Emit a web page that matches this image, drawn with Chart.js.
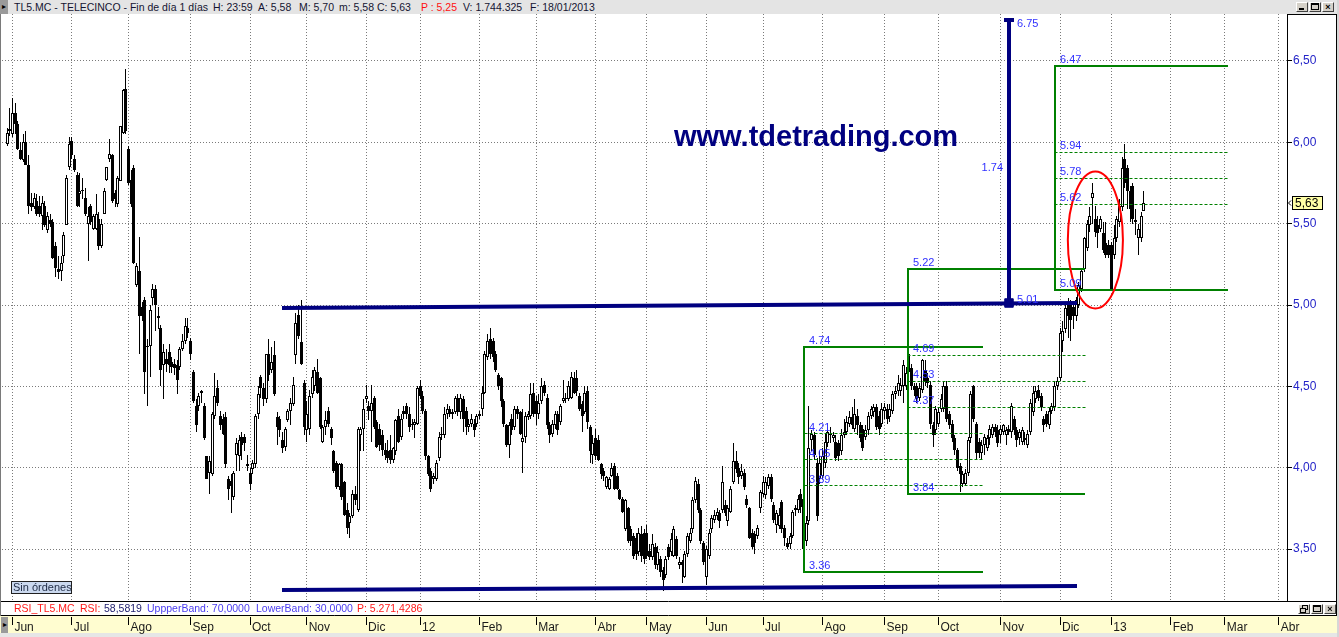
<!DOCTYPE html>
<html lang="es">
<head>
<meta charset="utf-8">
<title>TL5.MC - TELECINCO</title>
<script src="https://cdn.jsdelivr.net/npm/chart.js@4.4.1/dist/chart.umd.min.js"></script>
<style>
html,body{margin:0;padding:0;background:#fff;overflow:hidden;}
#wrap{position:relative;width:1339px;height:637px;overflow:hidden;font-family:"Liberation Sans",Arial,sans-serif;}
#c{position:absolute;left:0;top:0;}
.abs{position:absolute;white-space:nowrap;top:0;}
#titlebar{position:absolute;left:0;top:0;width:1337px;height:14px;background:#e4e4e4;font-size:10.5px;line-height:14px;color:#141432;}
.lbtn{position:absolute;left:0;width:8px;background:#9a9a9a;color:#000;font-size:8px;text-align:center;}
.wb{position:absolute;width:10px;height:8px;background:#d4d0c8;border:1px solid;border-color:#fff #404040 #404040 #fff;overflow:hidden;}
.wb i{position:absolute;display:block;}
#rsi{position:absolute;left:0;top:602px;width:1290px;height:13px;font-size:10.5px;line-height:13px;}
#rsi .abs{top:0;}
#sin{position:absolute;left:11px;top:581px;width:61px;height:13px;box-sizing:border-box;border:1px solid #202020;background:#cbd9ef;color:#1e2a44;font-size:11px;line-height:11px;padding-left:1px;white-space:nowrap;}
#www{position:absolute;left:674px;top:122px;font-weight:bold;font-size:29px;line-height:29px;color:#000080;white-space:nowrap;}
</style>
</head>
<body>
<div id="wrap">
  <canvas id="c" width="1339" height="637" style="width:1339px;height:637px"></canvas>

  <div id="titlebar">
    <div class="lbtn" style="top:0;height:14px;line-height:14px;">&#9656;</div>
    <span class="abs" style="left:14px">TL5.MC - TELECINCO - Fin de día 1 días</span>
    <span class="abs" style="left:213px">H: 23:59</span>
    <span class="abs" style="left:258px">A: 5,58</span>
    <span class="abs" style="left:299px">M: 5,70</span>
    <span class="abs" style="left:339px">m: 5,58</span>
    <span class="abs" style="left:377px">C: 5,63</span>
    <span class="abs" style="left:421px;color:#ff1010">P : 5,25</span>
    <span class="abs" style="left:463px">V: 1.744.325</span>
    <span class="abs" style="left:530px">F: 18/01/2013</span>
  </div>
  <div class="wb" style="left:1296px;top:2px"><i style="left:2px;top:5px;width:5px;height:2px;background:#000"></i></div>
  <div class="wb" style="left:1309px;top:2px"><i style="left:1px;top:0px;width:6px;height:4px;border:1px solid #000;border-top-width:2px"></i></div>
  <div class="wb" style="left:1322px;top:2px;font:bold 9px/8px 'Liberation Sans';text-align:center;color:#000">&#215;</div>

  <div id="www">www.tdetrading.com</div>

  <div id="sin">Sin órdenes</div>

  <div id="rsi">
    <span class="abs" style="left:14px;color:#ff1a1a">RSI_TL5.MC</span>
    <span class="abs" style="left:80px;color:#ff1a1a">RSI:</span>
    <span class="abs" style="left:104px;color:#222270">58,5819</span>
    <span class="abs" style="left:147px;color:#4a3cf0">UppperBand: 70,0000</span>
    <span class="abs" style="left:256px;color:#4a3cf0">LowerBand: 30,0000</span>
    <span class="abs" style="left:357px;color:#ff1a1a">P: 5.271,4286</span>
  </div>
  <div class="wb" style="left:1298px;top:604px"><i style="left:3px;top:0px;width:4px;height:3px;border:1px solid #000"></i><i style="left:1px;top:3px;width:4px;height:3px;border:1px solid #000;background:#d4d0c8"></i></div>
  <div class="wb" style="left:1311px;top:604px"><i style="left:1px;top:0px;width:6px;height:4px;border:1px solid #000;border-top-width:2px"></i></div>
  <div class="wb" style="left:1324px;top:604px;font:bold 9px/8px 'Liberation Sans';text-align:center;color:#000">&#215;</div>

  <div class="lbtn" style="left:1px;top:617px;height:16px;line-height:16px;width:7px;">&#9656;</div>
</div>

<script>
// ------------------------------------------------------------------
// DATA (daily candles TL5.MC, 30/05/2011 .. 18/01/2013)
// ------------------------------------------------------------------
const monthLabels = ['Jun','Jul','Ago','Sep','Oct','Nov','Dic','12','Feb','Mar','Abr','May',
                     'Jun','Jul','Ago','Sep','Oct','Nov','Dic','13','Feb','Mar','Abr'];
// index of the first trading session of each month
const monthStart = [2,24,45,68,90,111,133,153,175,196,218,237,259,280,302,325,345,368,390,409,431,451,471];
const yTicks = [3.5,4.0,4.5,5.0,5.5,6.0,6.5];

const open = [
5.99,6.08,6.05,6.18,6.11,5.95,5.89,6.00,5.86,5.63,
5.60,5.64,5.61,5.55,5.61,5.46,5.52,5.51,5.36,5.22,
5.21,5.30,5.49,5.85,6.01,5.90,5.80,5.68,5.71,5.66,
5.50,5.61,5.47,5.47,5.53,5.36,5.56,5.77,5.90,5.92,
5.69,5.62,5.76,6.06,6.33,5.96,5.77,5.84,5.12,5.21,
4.99,5.03,4.74,4.75,5.04,5.10,4.92,4.86,4.63,4.67,
4.71,4.65,4.64,4.63,4.62,4.73,4.78,4.86,4.78,4.59,
4.38,4.38,4.46,4.38,4.07,3.97,3.96,4.32,4.49,4.32,
4.30,4.31,3.93,3.92,3.82,4.08,4.07,4.19,4.19,4.02,
3.97,3.99,4.02,4.33,4.56,4.49,4.42,4.70,4.60,4.69,
4.31,4.30,4.17,4.13,4.29,4.35,4.39,4.69,4.94,4.77,
4.52,4.23,4.24,4.45,4.50,4.59,4.55,4.16,4.25,4.35,
4.24,4.10,4.03,3.88,4.02,3.91,3.74,3.66,3.70,3.84,
3.74,4.20,4.24,4.42,4.38,4.35,4.43,4.28,4.24,4.20,
4.11,4.10,4.11,4.05,4.10,4.32,4.19,4.35,4.38,4.33,
4.26,4.26,4.27,4.50,4.44,4.35,4.07,3.98,3.93,3.93,
4.06,4.20,4.20,4.33,4.36,4.33,4.34,4.43,4.34,4.42,
4.35,4.25,4.27,4.27,4.27,4.32,4.36,4.46,4.68,4.79,
4.78,4.70,4.57,4.55,4.41,4.26,4.14,4.30,4.25,4.36,
4.34,4.16,4.19,4.31,4.32,4.46,4.41,4.33,4.41,4.51,
4.43,4.26,4.21,4.26,4.33,4.28,4.41,4.42,4.42,4.43,
4.55,4.55,4.44,4.39,4.34,4.47,4.25,4.08,4.18,4.17,
4.02,3.98,3.88,3.87,3.95,4.01,3.95,3.86,3.81,3.62,
3.75,3.62,3.58,3.57,3.48,3.59,3.60,3.60,3.49,3.45,
3.51,3.40,3.44,3.37,3.34,3.51,3.48,3.46,3.56,3.40,
3.42,3.33,3.47,3.55,3.62,3.80,3.90,3.74,3.54,3.33,
3.46,3.62,3.68,3.70,3.72,3.74,3.77,3.67,3.73,3.91,
4.04,4.00,3.95,3.97,3.81,3.75,3.60,3.59,3.58,3.75,
3.84,3.83,3.89,3.94,3.77,3.65,3.64,3.79,3.63,3.54,
3.53,3.58,3.74,3.74,3.84,3.81,3.55,3.67,4.17,4.20,
4.03,3.93,3.95,4.03,4.15,4.20,4.18,4.16,4.15,4.10,
4.20,4.22,4.27,4.31,4.24,4.32,4.26,4.24,4.19,4.23,
4.32,4.34,4.37,4.32,4.27,4.35,4.36,4.31,4.35,4.45,
4.47,4.47,4.50,4.50,4.70,4.61,4.50,4.50,4.43,4.48,
4.60,4.55,4.51,4.26,4.23,4.27,4.36,4.36,4.50,4.33,
4.27,4.18,4.11,4.01,3.90,3.90,3.97,4.18,4.50,4.27,
4.16,4.09,4.14,4.12,4.18,4.20,4.25,4.23,4.20,4.22,
4.20,4.24,4.22,4.30,4.23,4.18,4.16,4.18,4.14,4.22,
4.34,4.42,4.48,4.44,4.30,4.33,4.26,4.35,4.37,4.50,
4.55,4.78,4.85,5.01,5.00,4.99,4.93,5.00,5.10,5.22,
5.35,5.49,5.66,5.53,5.49,5.47,5.44,5.38,5.37,5.37,
5.31,5.41,5.51,5.60,5.90,5.84,5.70,5.73,5.52,5.41,
5.41,5.58];

const high = [
6.09,6.21,6.27,6.24,6.13,6.00,6.05,6.07,5.92,5.69,
5.69,5.68,5.67,5.67,5.64,5.57,5.56,5.53,5.39,5.30,
5.30,5.45,5.80,6.03,6.03,5.92,5.82,5.81,5.78,5.72,
5.60,5.62,5.56,5.68,5.57,5.53,5.72,5.85,6.02,5.93,
5.71,5.79,6.10,6.33,6.45,5.98,5.83,5.86,5.26,5.42,
5.02,5.05,4.79,5.00,5.13,5.12,4.99,4.88,4.76,4.73,
4.76,4.68,4.67,4.66,4.74,4.82,4.92,4.92,4.80,4.60,
4.42,4.46,4.48,4.40,4.07,4.07,4.34,4.58,4.54,4.35,
4.33,4.34,3.95,3.96,3.98,4.18,4.20,4.22,4.21,4.08,
4.00,4.05,4.33,4.50,4.57,4.52,4.70,4.79,4.74,4.78,
4.34,4.32,4.22,4.25,4.36,4.43,4.56,4.95,5.00,5.03,
4.54,4.41,4.48,4.60,4.62,4.67,4.56,4.26,4.35,4.37,
4.25,4.11,4.04,4.03,4.03,3.92,3.78,3.72,3.86,3.89,
4.25,4.25,4.42,4.51,4.41,4.51,4.44,4.29,4.27,4.23,
4.15,4.17,4.20,4.13,4.30,4.36,4.33,4.38,4.40,4.37,
4.30,4.30,4.50,4.54,4.47,4.36,4.08,4.00,3.97,4.05,
4.22,4.25,4.37,4.39,4.38,4.36,4.44,4.45,4.45,4.44,
4.37,4.30,4.33,4.30,4.33,4.35,4.50,4.72,4.82,4.86,
4.80,4.72,4.58,4.56,4.42,4.27,4.28,4.33,4.38,4.38,
4.35,4.36,4.34,4.35,4.52,4.52,4.44,4.45,4.55,4.53,
4.45,4.28,4.29,4.35,4.35,4.39,4.54,4.46,4.53,4.59,
4.59,4.60,4.46,4.41,4.50,4.50,4.26,4.20,4.24,4.20,
4.03,4.00,3.95,3.94,4.03,4.03,3.97,3.87,3.82,3.81,
3.76,3.64,3.60,3.60,3.63,3.64,3.62,3.65,3.53,3.59,
3.54,3.52,3.46,3.39,3.46,3.53,3.60,3.64,3.58,3.45,
3.43,3.49,3.60,3.63,3.82,3.94,3.93,3.75,3.55,3.52,
3.62,3.71,3.74,3.75,3.74,4.01,3.80,3.77,3.89,4.15,
4.10,4.03,4.02,3.99,3.83,3.76,3.62,3.61,3.65,3.86,
3.95,3.94,3.96,3.96,3.79,3.74,3.75,3.80,3.65,3.57,
3.60,3.74,3.77,3.83,3.87,3.83,3.70,4.38,4.23,4.22,
4.06,4.10,4.12,4.21,4.25,4.25,4.22,4.20,4.17,4.24,
4.30,4.32,4.35,4.37,4.42,4.36,4.28,4.26,4.26,4.34,
4.38,4.39,4.39,4.35,4.40,4.40,4.39,4.39,4.47,4.50,
4.57,4.55,4.66,4.62,4.71,4.64,4.52,4.52,4.52,4.67,
4.66,4.58,4.53,4.28,4.38,4.37,4.45,4.53,4.53,4.35,
4.29,4.20,4.12,4.03,3.98,3.99,4.19,4.47,4.51,4.28,
4.18,4.17,4.21,4.20,4.26,4.27,4.27,4.26,4.26,4.27,
4.25,4.26,4.40,4.32,4.25,4.24,4.25,4.22,4.23,4.42,
4.50,4.50,4.51,4.46,4.32,4.35,4.37,4.40,4.53,4.56,
4.86,4.90,5.00,5.04,5.03,5.02,5.05,5.14,5.23,5.42,
5.52,5.60,5.75,5.61,5.55,5.55,5.51,5.51,5.40,5.39,
5.49,5.55,5.65,5.91,5.99,5.86,5.73,5.75,5.59,5.50,
5.57,5.70];

const low = [
5.98,6.04,6.03,6.05,5.95,5.89,5.88,5.86,5.56,5.58,
5.59,5.55,5.54,5.46,5.48,5.44,5.48,5.28,5.17,5.16,
5.15,5.26,5.49,5.83,5.90,5.82,5.60,5.60,5.65,5.55,
5.27,5.49,5.46,5.46,5.34,5.35,5.56,5.76,5.88,5.63,
5.60,5.60,5.76,6.05,6.05,5.74,5.60,5.25,5.11,4.70,
4.90,4.45,4.38,4.56,5.00,4.84,4.85,4.50,4.42,4.59,
4.58,4.58,4.57,4.45,4.60,4.72,4.76,4.80,4.66,4.40,
4.22,4.35,4.40,4.17,3.93,3.84,3.95,4.30,4.38,4.23,
4.20,4.00,3.80,3.72,3.80,3.98,3.98,4.05,4.10,3.98,
3.86,3.96,4.00,4.30,4.43,4.38,4.40,4.53,4.58,4.44,
4.14,4.19,4.09,4.10,4.28,4.26,4.38,4.64,4.79,4.63,
4.20,4.16,4.20,4.43,4.47,4.45,4.24,4.15,4.20,4.25,
4.14,3.97,3.87,3.86,3.80,3.70,3.59,3.57,3.69,3.77,
3.73,4.10,4.10,4.40,4.29,4.16,4.24,4.12,4.10,4.07,
4.05,4.03,4.02,4.03,4.08,4.15,4.17,4.30,4.30,4.22,
4.23,4.18,4.26,4.42,4.33,4.05,3.95,3.85,3.90,3.92,
4.04,4.17,4.18,4.30,4.31,4.30,4.33,4.32,4.30,4.22,
4.20,4.22,4.25,4.19,4.25,4.30,4.32,4.45,4.66,4.67,
4.65,4.59,4.48,4.37,4.25,4.13,4.06,4.20,4.23,4.30,
4.20,3.97,4.15,4.29,4.30,4.31,4.26,4.30,4.39,4.44,
4.24,4.15,4.19,4.24,4.20,4.26,4.40,4.40,4.41,4.42,
4.45,4.44,4.35,4.22,4.33,4.24,4.03,4.02,4.05,4.04,
3.93,3.92,3.87,3.86,3.94,3.86,3.86,3.80,3.72,3.61,
3.54,3.52,3.44,3.43,3.46,3.42,3.41,3.44,3.43,3.43,
3.38,3.37,3.33,3.24,3.32,3.43,3.46,3.45,3.44,3.38,
3.29,3.32,3.45,3.54,3.60,3.78,3.72,3.53,3.40,3.28,
3.44,3.60,3.66,3.68,3.63,3.72,3.70,3.64,3.72,3.90,
3.97,3.90,3.93,3.86,3.75,3.56,3.50,3.47,3.56,3.72,
3.82,3.81,3.87,3.79,3.66,3.60,3.62,3.60,3.52,3.50,
3.50,3.57,3.70,3.72,3.72,3.36,3.52,3.65,4.10,4.05,
3.67,3.90,3.93,4.00,4.13,4.15,4.16,4.04,4.04,4.08,
4.18,4.20,4.25,4.24,4.22,4.20,4.16,4.10,4.17,4.20,
4.30,4.31,4.23,4.20,4.25,4.30,4.27,4.28,4.33,4.42,
4.44,4.44,4.40,4.48,4.55,4.48,4.44,4.40,4.41,4.46,
4.50,4.49,4.24,4.13,4.20,4.25,4.34,4.34,4.28,4.24,
4.16,4.08,3.98,3.85,3.88,3.89,3.95,4.15,4.28,4.05,
4.06,4.05,4.08,4.10,4.14,4.18,4.19,4.13,4.15,4.20,
4.14,4.20,4.18,4.20,4.13,4.14,4.14,4.14,4.12,4.20,
4.32,4.40,4.41,4.35,4.22,4.25,4.24,4.33,4.35,4.48,
4.53,4.71,4.83,4.80,4.78,4.85,4.90,4.98,5.08,5.20,
5.33,5.45,5.50,5.42,5.35,5.45,5.32,5.29,5.29,5.09,
5.28,5.39,5.48,5.58,5.72,5.59,5.51,5.50,5.43,5.31,
5.39,5.58];

const close = [
6.06,6.07,6.18,6.11,5.96,5.90,6.00,5.86,5.61,5.60,
5.66,5.56,5.56,5.63,5.49,5.55,5.50,5.29,5.23,5.20,
5.26,5.43,5.78,5.99,5.92,5.83,5.61,5.70,5.70,5.56,
5.55,5.51,5.55,5.56,5.36,5.50,5.70,5.85,5.93,5.64,
5.65,5.78,6.10,6.32,6.07,5.75,5.62,5.26,5.24,4.93,
4.93,4.59,4.75,4.97,5.10,5.00,4.93,4.60,4.71,4.64,
4.63,4.62,4.61,4.54,4.73,4.78,4.87,4.83,4.70,4.41,
4.26,4.44,4.47,4.18,3.93,4.04,4.33,4.44,4.40,4.26,
4.21,4.02,3.87,3.89,3.97,4.15,4.17,4.14,4.15,4.01,
3.90,4.03,4.32,4.45,4.49,4.42,4.70,4.57,4.65,4.45,
4.25,4.23,4.12,4.24,4.35,4.40,4.51,4.89,4.81,4.64,
4.25,4.33,4.44,4.56,4.60,4.46,4.25,4.25,4.29,4.27,
4.18,3.98,3.88,4.02,3.82,3.71,3.63,3.70,3.84,3.80,
4.24,4.24,4.36,4.44,4.35,4.40,4.25,4.13,4.14,4.11,
4.08,4.06,4.05,4.12,4.29,4.16,4.30,4.33,4.33,4.25,
4.26,4.28,4.49,4.44,4.35,4.07,3.96,3.87,3.95,4.03,
4.19,4.21,4.33,4.36,4.33,4.34,4.43,4.34,4.43,4.30,
4.25,4.27,4.30,4.23,4.32,4.33,4.46,4.70,4.78,4.70,
4.68,4.60,4.50,4.41,4.27,4.14,4.26,4.23,4.36,4.33,
4.21,4.18,4.32,4.33,4.45,4.33,4.33,4.40,4.50,4.46,
4.26,4.20,4.27,4.33,4.23,4.38,4.43,4.43,4.50,4.56,
4.46,4.47,4.36,4.32,4.46,4.28,4.10,4.15,4.07,4.05,
3.96,3.95,3.94,3.93,4.00,3.87,3.87,3.81,3.73,3.80,
3.55,3.55,3.46,3.47,3.60,3.46,3.44,3.46,3.45,3.53,
3.40,3.48,3.36,3.31,3.44,3.45,3.56,3.62,3.46,3.42,
3.40,3.47,3.58,3.60,3.80,3.92,3.74,3.55,3.42,3.50,
3.60,3.69,3.71,3.73,3.67,3.91,3.72,3.75,3.87,4.04,
3.99,3.94,3.98,3.88,3.77,3.57,3.51,3.54,3.63,3.85,
3.91,3.91,3.94,3.81,3.68,3.72,3.71,3.62,3.57,3.51,
3.58,3.73,3.75,3.81,3.76,3.50,3.66,4.12,4.21,4.08,
3.70,4.03,4.07,4.16,4.22,4.20,4.20,4.06,4.07,4.20,
4.22,4.28,4.31,4.26,4.33,4.26,4.18,4.12,4.23,4.32,
4.36,4.37,4.25,4.24,4.36,4.37,4.30,4.36,4.45,4.47,
4.52,4.51,4.63,4.58,4.59,4.50,4.48,4.42,4.49,4.66,
4.53,4.52,4.27,4.20,4.36,4.34,4.42,4.50,4.30,4.26,
4.18,4.11,4.00,3.96,3.96,3.97,4.17,4.45,4.30,4.09,
4.09,4.14,4.19,4.18,4.24,4.25,4.22,4.15,4.24,4.26,
4.23,4.22,4.38,4.23,4.17,4.22,4.23,4.17,4.21,4.40,
4.46,4.47,4.43,4.37,4.26,4.27,4.35,4.38,4.50,4.53,
4.83,4.84,4.98,4.93,4.91,4.93,5.03,5.12,5.21,5.41,
5.50,5.55,5.69,5.45,5.44,5.53,5.34,5.31,5.31,5.10,
5.41,5.53,5.61,5.84,5.75,5.70,5.59,5.53,5.51,5.47,
5.55,5.63];

// ------------------------------------------------------------------
// ANNOTATIONS (in data units: x = session index, y = price)
// ------------------------------------------------------------------
const resistance = [{x:101.96, y:4.984}, {x:396.3, y:5.011}];
const support    = [{x:101.96, y:3.248}, {x:396.3, y:3.270}];
const projection = {x:371.1, from:5.01, to:6.75};
const fibBoxes = [
  {left:295.2, right:361.5, low:3.36, high:4.74, levels:[4.21,4.05,3.89]},
  {left:333.7, right:399.3, low:3.84, high:5.22, levels:[4.69,4.53,4.37]},
  {left:388.1, right:452.2, low:5.09, high:6.47, levels:[5.94,5.78,5.62]}
];
const highlight = {x:403.1, y:5.40, rx:10.2, ry:0.421};

// axis ranges
const xMin = -1.852, xMax = 474.07;
const yMin = 3.1804, yMax = 6.7889;

// ------------------------------------------------------------------
const n = close.length;
const wickData = close.map((c, i) => ({x: i, y: [low[i], high[i]]}));
const bodyData = close.map((c, i) => ({x: i, y: [Math.min(open[i], c), Math.max(open[i], c)]}));
const isUp = close.map((c, i) => c >= open[i]);

const GREEN = '#008000', NAVY = '#000080', LBL = '#3030ff';
const lineBase = {type:'line', pointRadius:0, pointHoverRadius:0, fill:false, tension:0, spanGaps:false,
                  borderCapStyle:'butt', borderJoinStyle:'miter'};

const datasets = [
  {type:'bar', label:'wick', data:wickData, backgroundColor:'#000000', borderWidth:0,
   grouped:false, categoryPercentage:1, barPercentage:1, maxBarThickness:1, inflateAmount:0, order:5},
  {type:'bar', label:'body', data:bodyData,
   backgroundColor:(ctx) => isUp[ctx.dataIndex] ? '#ffffff' : '#000000',
   borderColor:'#000000', borderWidth:1, borderSkipped:false, minBarLength:1,
   grouped:false, categoryPercentage:1, barPercentage:1.2, maxBarThickness:3, inflateAmount:0, order:4}
];

fibBoxes.forEach(b => {
  datasets.push(Object.assign({}, lineBase, {
    label:'box', order:2, borderColor:GREEN, borderWidth:2,
    data:[{x:b.right,y:b.high},{x:b.left,y:b.high},{x:b.left,y:b.low},{x:b.right,y:b.low}]
  }));
  const pts = [];
  b.levels.forEach(l => { pts.push({x:b.left,y:l},{x:b.right,y:l},{x:b.right,y:null}); });
  datasets.push(Object.assign({}, lineBase, {
    label:'levels', order:2, borderColor:GREEN, borderWidth:1, borderDash:[3,2], data:pts
  }));
});
datasets.push(Object.assign({}, lineBase, {label:'resistance', order:1, borderColor:NAVY, borderWidth:4, data:resistance}));
datasets.push(Object.assign({}, lineBase, {label:'support', order:1, borderColor:NAVY, borderWidth:4, data:support}));
datasets.push(Object.assign({}, lineBase, {
  label:'projection', order:1, borderColor:NAVY, borderWidth:4,
  data:[{x:projection.x, y:projection.from}, {x:projection.x, y:projection.to}],
  pointRadius:[6,5], pointStyle:['rect','line'], pointBackgroundColor:NAVY, pointBorderColor:NAVY, pointBorderWidth:[1,4]
}));

function snap(v, w) { return (Math.round(w) % 2 === 1) ? Math.floor(v) + 0.5 : Math.round(v); }
function fmt(v) { return v.toFixed(2); }

const chromePlugin = {
  id: 'chrome',
  beforeDraw(chart) {
    const ctx = chart.ctx;
    ctx.save();
    ctx.fillStyle = '#ffffff'; ctx.fillRect(0, 0, 1339, 637);
    ctx.fillStyle = '#fffdd0'; ctx.fillRect(0, 616, 1337, 17);
    ctx.fillStyle = '#e6e6e6'; ctx.fillRect(0, 633, 1339, 4);
    ctx.fillStyle = '#d6d6d6'; ctx.fillRect(1337, 0, 2, 637);
    ctx.restore();
  },
  beforeDatasetsDraw(chart) {
    chart.data.datasets.forEach((ds, di) => {
      const meta = chart.getDatasetMeta(di);
      if (ds.type === 'bar') {
        meta.data.forEach(el => {
          el.x = Math.floor(el.x) + 0.5;
          const y = Math.round(el.y);
          let b = Math.round(el.base);
          if (Math.abs(y - b) < 1) b = y + 1;
          el.y = y; el.base = b;
        });
      } else {
        const w = ds.borderWidth || 1;
        meta.data.forEach(p => { if (!p.skip) { p.x = snap(p.x, w); p.y = snap(p.y, w); } });
        if (meta.dataset) meta.dataset._path = undefined;
      }
    });
  },
  afterDatasetsDraw(chart) {
    const ctx = chart.ctx, xs = chart.scales.x, ys = chart.scales.y;
    const X = v => xs.getPixelForValue(v), Y = v => ys.getPixelForValue(v);
    ctx.save();
    // red highlight ellipse
    ctx.strokeStyle = '#ff0000'; ctx.lineWidth = 2;
    ctx.beginPath();
    ctx.ellipse(X(highlight.x), Y(highlight.y), Math.abs(X(highlight.x + highlight.rx) - X(highlight.x)),
                Math.abs(Y(highlight.y + highlight.ry) - Y(highlight.y)), 0, 0, Math.PI * 2);
    ctx.stroke();
    // labels
    ctx.font = '11px "Liberation Sans", Arial, sans-serif';
    ctx.fillStyle = LBL; ctx.textBaseline = 'alphabetic'; ctx.textAlign = 'left';
    fibBoxes.forEach(b => {
      const lx = Math.round(X(b.left)) + 5;
      [b.high].concat(b.levels, [b.low]).forEach(v => ctx.fillText(fmt(v), lx, Math.round(Y(v)) - 3.5));
    });
    const ax = Math.round(X(projection.x));
    ctx.fillText(fmt(projection.to), ax + 8, Math.round(Y(projection.to)) + 7);
    ctx.fillText(fmt(projection.from), ax + 8, Math.round(Y(projection.from)));
    ctx.textAlign = 'right';
    ctx.fillText(fmt(projection.to - projection.from), ax - 6, Math.round(Y((projection.to + projection.from) / 2)) + 9);
    ctx.restore();
  },
  afterDraw(chart) {
    const ctx = chart.ctx, xs = chart.scales.x, ys = chart.scales.y, ca = chart.chartArea;
    ctx.save();
    ctx.lineWidth = 1; ctx.strokeStyle = '#000000';
    ctx.beginPath();
    ctx.moveTo(0, ca.bottom + 0.5); ctx.lineTo(1337, ca.bottom + 0.5);
    ctx.moveTo(0, 615.5); ctx.lineTo(1337, 615.5);
    ctx.moveTo(ca.right + 0.5, ca.top); ctx.lineTo(ca.right + 0.5, ca.bottom);
    ctx.moveTo(1336.5, ca.top); ctx.lineTo(1336.5, 616);
    ctx.moveTo(ca.right, ca.top + 0.5); ctx.lineTo(1337, ca.top + 0.5);
    ctx.stroke();
    ctx.strokeStyle = '#7a7a7a';
    ctx.beginPath(); ctx.moveTo(0.5, ca.top); ctx.lineTo(0.5, 616); ctx.stroke();
    // month tick marks in the date strip
    ctx.strokeStyle = '#000000';
    ctx.beginPath();
    xs.ticks.forEach(t => {
      const px = Math.floor(xs.getPixelForValue(t.value)) + 0.5;
      ctx.moveTo(px, 617); ctx.lineTo(px, 625);
    });
    ctx.stroke();
    // last price tag
    const last = close[n - 1];
    const yp = Math.round(ys.getPixelForValue(last));
    ctx.fillStyle = '#ffffa6'; ctx.fillRect(1292, yp - 7, 31, 14);
    ctx.strokeStyle = '#000000'; ctx.strokeRect(1292.5, yp - 6.5, 30, 13);
    ctx.fillStyle = '#000000';
    ctx.font = '12px "Liberation Sans", Arial, sans-serif';
    ctx.textAlign = 'left'; ctx.textBaseline = 'middle';
    ctx.fillText(last.toFixed(2).replace('.', ','), 1295, yp + 0.5);
    ctx.beginPath(); ctx.moveTo(1291, yp - 2.5); ctx.lineTo(1288.5, yp); ctx.lineTo(1291, yp + 2.5); ctx.stroke();
    ctx.restore();
  }
};

Chart.defaults.font.family = '"Liberation Sans", Arial, sans-serif';

new Chart(document.getElementById('c'), {
  type: 'bar',
  data: {datasets: datasets},
  options: {
    responsive: false, animation: false, events: [],
    layout: {autoPadding: false, padding: {left: 2, top: 14, right: 0, bottom: 0}},
    plugins: {legend: {display: false}, tooltip: {enabled: false}, title: {display: false}},
    scales: {
      x: {
        type: 'linear', position: 'bottom', min: xMin, max: xMax, offset: false,
        afterFit: s => { s.height = 36; s.paddingLeft = 0; s.paddingRight = 0; },
        afterBuildTicks: s => { s.ticks = monthStart.map(v => ({value: v})); },
        ticks: {autoSkip: false, maxRotation: 0, minRotation: 0, align: 'start', labelOffset: 2, padding: 19,
                color: '#1a1a1a', font: {size: 12}, callback: (v, i) => monthLabels[i]},
        grid: {color: '#7a7a7a', lineWidth: 1, drawTicks: false, offset: false},
        border: {display: false, dash: [1, 2]}
      },
      y: {
        type: 'linear', position: 'right', min: yMin, max: yMax,
        afterFit: s => { s.width = 52; s.paddingTop = 0; s.paddingBottom = 0; },
        afterBuildTicks: s => { s.ticks = yTicks.map(v => ({value: v})); },
        ticks: {padding: 1, color: '#2424c8', font: {size: 12}, callback: v => v.toFixed(2).replace('.', ',')},
        grid: {color: '#7a7a7a', lineWidth: 1, drawTicks: true, tickLength: 5, tickColor: '#000000', tickWidth: 1},
        border: {display: false, dash: [1, 2]}
      }
    }
  },
  plugins: [chromePlugin]
});
</script>
</body>
</html>
